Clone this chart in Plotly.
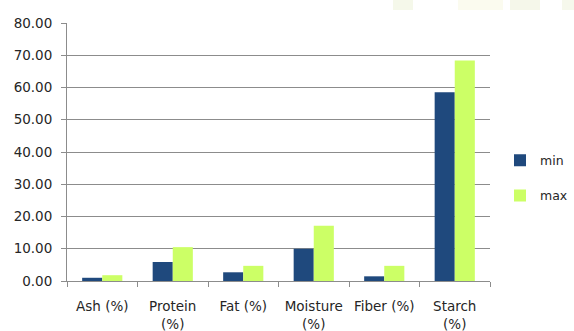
import plotly.graph_objects as go

categories = ["Ash (%)", "Protein<br>(%)", "Fat (%)", "Moisture<br>(%)", "Fiber (%)", "Starch<br>(%)"]
min_values = [1.0, 5.9, 2.7, 10.0, 1.45, 58.5]
max_values = [1.8, 10.5, 4.7, 17.1, 4.7, 68.4]
y_ticks = [0, 10, 20, 30, 40, 50, 60, 70, 80]
y_ticklabels = ["%.2f" % v for v in y_ticks]

FONT = "DejaVu Sans"
W, H = 574, 331
L, R, T, B = 67, 84, 23, 50
PW, PH = W - L - R, H - T - B


def px_x(x):
    return (x - L) / PW


def px_y(y):
    return (H - B - y) / PH


fig = go.Figure()
fig.add_trace(go.Bar(x=categories, y=min_values, name="min", marker_color="#1f497d",
                     marker_line_width=0, legendgroup="a"))
fig.add_trace(go.Bar(x=categories, y=max_values, name="max", marker_color="#ccff66",
                     marker_line_width=0, legendgroup="b"))

# faint decorative band at the top of the picture
band = [(393, 413, "#f5f8ea"), (458, 503, "#fbfbef"), (510, 540, "#f5f7ea"), (562, 574, "#f6f8ec")]
shapes = []
for x0, x1, c in band:
    shapes.append(dict(type="rect", xref="paper", yref="paper", x0=px_x(x0), x1=px_x(x1),
                       y0=px_y(10), y1=px_y(0), fillcolor=c, line_width=0, layer="below"))

fig.update_layout(
    width=W, height=H,
    margin=dict(l=L, r=R, t=T, b=B, autoexpand=False),
    paper_bgcolor="white", plot_bgcolor="white",
    barmode="group", bargap=0.43, bargroupgap=0,
    font=dict(family=FONT, size=13.5, color="#262626"),
    shapes=shapes,
    legend=dict(x=px_x(500), y=px_y(178), yanchor="middle", xanchor="left",
                font=dict(size=12.5, color="#262626"), tracegroupgap=16,
                itemwidth=30, bgcolor="rgba(0,0,0,0)"),
    xaxis=dict(type="category", showline=True, linecolor="#8c8c8c", linewidth=1,
               ticks="outside", tickson="boundaries", ticklen=5, tickcolor="#8c8c8c",
               showgrid=False, tickfont=dict(size=13.5), ticklabelstandoff=13,
               tickangle=0, automargin=False),
    yaxis=dict(range=[0, 80], tickvals=y_ticks, ticktext=y_ticklabels,
               showline=True, linecolor="#8c8c8c", linewidth=1,
               ticks="outside", ticklen=5, tickcolor="#8c8c8c",
               showgrid=True, gridcolor="#8c8c8c", gridwidth=1,
               zeroline=False, tickfont=dict(size=13.5), ticklabelstandoff=6,
               automargin=False),
)

fig.write_html("out.html")
